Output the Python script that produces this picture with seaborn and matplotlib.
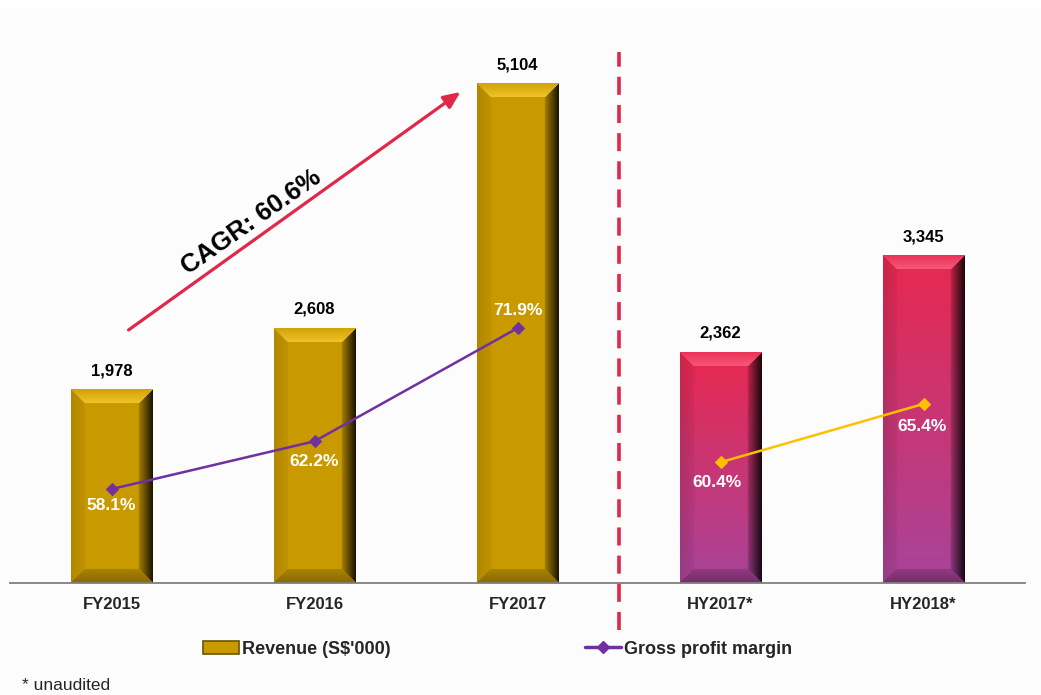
import numpy as np
import matplotlib
matplotlib.use("Agg")
import matplotlib.pyplot as plt
from matplotlib.lines import Line2D
from matplotlib.patches import Patch, Rectangle
from matplotlib.colors import to_rgb
import seaborn as sns

# ---- data ----
periods = ["FY2015", "FY2016", "FY2017", "HY2017*", "HY2018*"]
revenue = [1978, 2608, 5104, 2362, 3345]
fy_periods = ["FY2015", "FY2016", "FY2017"]
fy_margin = [58.1, 62.2, 71.9]
hy_periods = ["HY2017*", "HY2018*"]
hy_margin = [60.4, 65.4]
cagr_text = "CAGR: 60.6%"
legend_labels = ["Revenue (S$'000)", "Gross profit margin"]
footnote = "* unaudited"

# ---- colours ----
GOLD = "#C99A00"
GOLD_HI = "#FFD43A"
PINK_TOP = "#E8284F"
PINK_BOTTOM = "#A8449A"
PINK_HI = "#FF6A8A"
PURPLE = "#7030A0"
AMBER = "#FFC000"
CRIMSON = "#E0284A"
BG = "#FCFCFC"

sns.set_theme(style="white")
plt.rcParams["font.family"] = ["Liberation Sans", "DejaVu Sans"]


def bevel_image(w, h, top_col, bot_col, hi_col, b=14):
    # pixel image of a bevelled bar: bright top edge, dark right edge
    w = max(int(round(w)), 2)
    h = max(int(round(h)), 2)
    yy, xx = np.mgrid[0:h, 0:w] + 0.5
    t = (yy / h)[..., None]
    top = np.array(to_rgb(top_col))
    bot = np.array(to_rgb(bot_col))
    hi = np.array(to_rgb(hi_col))
    base = top * (1 - t) + bot * t
    d = np.stack([yy, h - yy, xx, w - xx])
    region = d.argmin(0)
    s = np.clip(d.min(0) / b, 0, 1)
    edge = d.min(0) < b
    img = base.copy()
    m = edge & (region == 0)
    a = (0.15 + 0.55 * s[m])[:, None]
    img[m] = base[m] * (1 - a) + hi * a
    m = edge & (region == 1)
    img[m] = base[m] * (0.68 + 0.17 * s[m])[:, None]
    m = edge & (region == 2)
    img[m] = base[m] * (0.88 + 0.07 * s[m])[:, None]
    m = edge & (region == 3)
    img[m] = base[m] * (0.12 + 0.7 * s[m])[:, None]
    return np.clip(img, 0, 1)


fig = plt.figure(figsize=(10.41, 6.95), dpi=100, facecolor=BG)
fig.patches.append(Rectangle((0, 1 - 8 / 695), 1, 8 / 695, transform=fig.transFigure,
                             color="white", zorder=0))
ax = fig.add_axes([10 / 1041, 112 / 695, 1015 / 1041, 543 / 695])
ax.set_facecolor(BG)

bar_cols = [GOLD if p in fy_periods else PINK_TOP for p in periods]
sns.barplot(x=periods, y=revenue, hue=periods, palette=bar_cols, legend=False,
            width=0.4, saturation=1, ax=ax)
ax.set_xlim(-0.5, 4.5)
ax.set_ylim(0, 5554)

# bevel overlay on each bar
for p, per in zip(ax.patches, periods):
    x0, w, hgt = p.get_x(), p.get_width(), p.get_height()
    (px0, py0), (px1, py1) = ax.transData.transform([(x0, 0), (x0 + w, hgt)])
    if per in fy_periods:
        img = bevel_image(px1 - px0, py1 - py0, GOLD, GOLD, GOLD_HI)
    else:
        img = bevel_image(px1 - px0, py1 - py0, PINK_TOP, PINK_BOTTOM, PINK_HI)
    ax.imshow(img, extent=(x0, x0 + w, 0, hgt), origin="upper", aspect="auto",
              interpolation="bilinear", zorder=2.5)
ax.set_xlim(-0.5, 4.5)
ax.set_ylim(0, 5554)

for i, v in enumerate(revenue):
    ax.annotate(f"{v:,}", (i, v), xytext=(0, 13.5), textcoords="offset points",
                ha="center", va="center", fontsize=12, fontweight="bold", color="black",
                zorder=6)

ax.set_xticks(range(len(periods)))
ax.set_xticklabels(periods, fontsize=12, fontweight="bold")
ax.tick_params(axis="x", length=0, pad=10)
ax.set_yticks([])
ax.set_xlabel("")
ax.set_ylabel("")
for side in ["top", "left", "right"]:
    ax.spines[side].set_visible(False)
ax.spines["bottom"].set_color("#7F7F7F")
ax.spines["bottom"].set_linewidth(1.3)

# divider between full-year and half-year
ax.plot([2.5, 2.5], [-0.087, 0.978], transform=ax.get_xaxis_transform(), color=CRIMSON,
        lw=2.6, dashes=(5, 2.8), clip_on=False, zorder=5)

# CAGR arrow
ax.annotate("", xy=(1.719, 5022), xytext=(0.084, 2588),
            arrowprops=dict(arrowstyle="-|>,head_length=0.5,head_width=0.22", color=CRIMSON,
                            lw=2.3, mutation_scale=20, shrinkA=0, shrinkB=0))
ax.text(0.69, 3690, cagr_text, rotation=35, rotation_mode="anchor", ha="center",
        va="center", fontsize=18.5, fontweight="bold", color="black")

# gross margin lines
ax2 = ax.twinx()
fy_x = [periods.index(p) for p in fy_periods]
hy_x = [periods.index(p) for p in hy_periods]
sns.lineplot(x=fy_x, y=fy_margin, color=PURPLE, marker="D", markersize=6.5, linewidth=1.8,
             markeredgecolor=PURPLE, ax=ax2)
sns.lineplot(x=hy_x, y=hy_margin, color=AMBER, marker="D", markersize=6.5, linewidth=1.8,
             markeredgecolor=AMBER, ax=ax2)
ax2.set_ylim(50.05, 96.6)
ax2.set_xlim(-0.5, 4.5)
ax2.set_yticks([])
ax2.set_ylabel("")
ax2.grid(False)
for side in ["top", "left", "right", "bottom"]:
    ax2.spines[side].set_visible(False)

label_offsets = [(0, -11.5), (0, -14.5), (0, 13), (-2.5, -14.5), (-1, -16.5)]
for (x, v), off in zip(zip(fy_x + hy_x, fy_margin + hy_margin), label_offsets):
    ax2.annotate(f"{v}%", (x, v), xytext=off, textcoords="offset points", ha="center",
                 va="center", fontsize=12.5, fontweight="bold", color="white", zorder=6)

# legend at the bottom
handles = [Patch(facecolor=GOLD, edgecolor="#6B5200", linewidth=1.2),
           Line2D([0], [0], color=PURPLE, marker="D", lw=2.5, markersize=6.5)]
fig.legend(handles=handles, labels=legend_labels, loc="center", bbox_to_anchor=(0.478, 0.066),
           ncol=2, frameon=False, columnspacing=10.8, handlelength=2.0, handletextpad=0.15,
           prop=dict(weight="bold", size=13))

fig.text(22 / 1041, 1 - 686 / 695, footnote, fontsize=12.5, va="center", ha="left")

fig.savefig("out.png", dpi=100, facecolor=BG)
